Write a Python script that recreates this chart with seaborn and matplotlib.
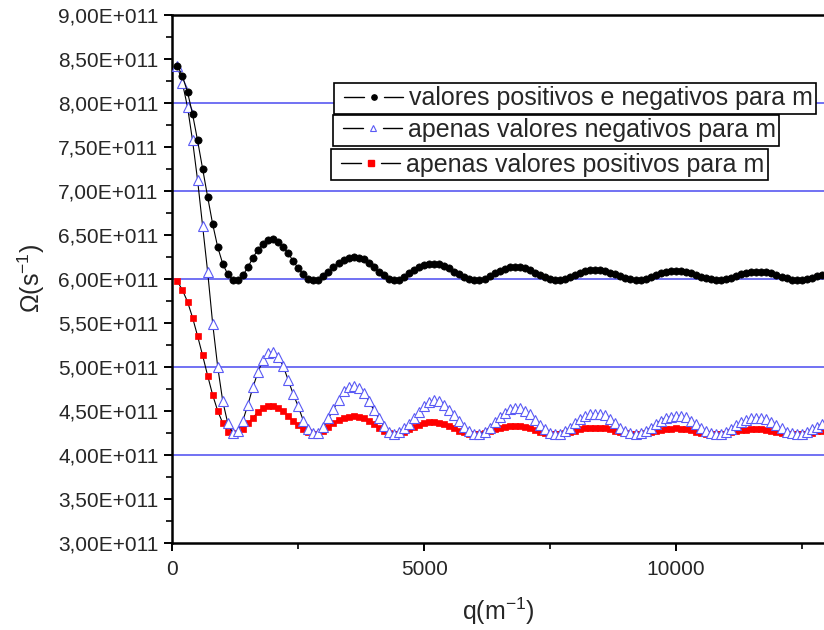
import numpy as np
import pandas as pd
import matplotlib
matplotlib.use("Agg")
import matplotlib.pyplot as plt
import seaborn as sns
from matplotlib.lines import Line2D
from matplotlib.legend_handler import HandlerBase
from matplotlib.ticker import MultipleLocator, FuncFormatter

# ---------------- data (Omega in units of 1e11 s^-1) ----------------
q_values = list(range(100, 13000, 100))

omega_pos_neg = [
    8.42, 8.30, 8.12, 7.87, 7.57, 7.25, 6.93, 6.62, 6.36, 6.17,
    6.05, 5.99, 5.99, 6.04, 6.13, 6.24, 6.33, 6.40, 6.44, 6.45,
    6.42, 6.36, 6.29, 6.20, 6.12, 6.05, 6.00, 5.985, 5.99, 6.03,
    6.08, 6.13, 6.18, 6.21, 6.24, 6.25, 6.24, 6.22, 6.18, 6.13,
    6.08, 6.04, 6.00, 5.985, 5.99, 6.02, 6.06, 6.10, 6.13, 6.155,
    6.17, 6.17, 6.165, 6.15, 6.12, 6.08, 6.05, 6.02, 6.00, 5.985,
    5.985, 6.00, 6.03, 6.06, 6.09, 6.115, 6.13, 6.135, 6.13, 6.12,
    6.10, 6.07, 6.04, 6.015, 5.995, 5.985, 5.99, 6.00, 6.02, 6.045,
    6.07, 6.09, 6.10, 6.105, 6.10, 6.09, 6.07, 6.05, 6.03, 6.01,
    5.995, 5.985, 5.99, 6.00, 6.02, 6.04, 6.06, 6.075, 6.085, 6.09,
    6.09, 6.08, 6.065, 6.045, 6.025, 6.005, 5.995, 5.985, 5.985, 5.995,
    6.01, 6.03, 6.05, 6.065, 6.075, 6.08, 6.08, 6.075, 6.06, 6.04,
    6.02, 6.005, 5.99, 5.985, 5.985, 5.995, 6.01, 6.03, 6.045,
]

omega_neg = [
    8.41, 8.22, 7.95, 7.57, 7.12, 6.60, 6.08, 5.49, 5.00, 4.61,
    4.36, 4.245, 4.27, 4.39, 4.57, 4.77, 4.94, 5.08, 5.16, 5.17,
    5.115, 5.01, 4.85, 4.69, 4.55, 4.39, 4.29, 4.245, 4.25, 4.32,
    4.415, 4.52, 4.62, 4.72, 4.775, 4.78, 4.755, 4.70, 4.615, 4.51,
    4.415, 4.33, 4.265, 4.24, 4.26, 4.30, 4.35, 4.415, 4.49, 4.555,
    4.60, 4.62, 4.615, 4.565, 4.51, 4.45, 4.38, 4.32, 4.27, 4.24,
    4.235, 4.26, 4.31, 4.37, 4.43, 4.48, 4.52, 4.535, 4.53, 4.50,
    4.46, 4.40, 4.34, 4.29, 4.25, 4.235, 4.24, 4.27, 4.31, 4.36,
    4.41, 4.44, 4.46, 4.47, 4.465, 4.45, 4.41, 4.36, 4.31, 4.27,
    4.245, 4.235, 4.245, 4.27, 4.31, 4.35, 4.39, 4.42, 4.435, 4.44,
    4.44, 4.425, 4.39, 4.35, 4.31, 4.27, 4.245, 4.235, 4.24, 4.26,
    4.295, 4.335, 4.37, 4.40, 4.415, 4.42, 4.42, 4.405, 4.375, 4.34,
    4.30, 4.265, 4.245, 4.235, 4.24, 4.26, 4.29, 4.32, 4.35,
]

omega_pos = [
    5.97, 5.87, 5.74, 5.56, 5.35, 5.13, 4.90, 4.68, 4.50, 4.36,
    4.265, 4.225, 4.25, 4.29, 4.36, 4.42, 4.49, 4.535, 4.56, 4.56,
    4.535, 4.50, 4.44, 4.39, 4.34, 4.29, 4.255, 4.237, 4.24, 4.275,
    4.32, 4.36, 4.40, 4.42, 4.435, 4.44, 4.435, 4.42, 4.39, 4.35,
    4.31, 4.275, 4.25, 4.235, 4.24, 4.26, 4.29, 4.32, 4.345, 4.36,
    4.37, 4.37, 4.365, 4.35, 4.325, 4.30, 4.275, 4.255, 4.24, 4.232,
    4.235, 4.25, 4.27, 4.29, 4.31, 4.32, 4.327, 4.33, 4.327, 4.32,
    4.305, 4.285, 4.265, 4.25, 4.238, 4.232, 4.235, 4.245, 4.26, 4.275,
    4.29, 4.30, 4.308, 4.31, 4.308, 4.30, 4.29, 4.275, 4.26, 4.245,
    4.237, 4.232, 4.235, 4.245, 4.26, 4.275, 4.285, 4.293, 4.298, 4.30,
    4.298, 4.29, 4.28, 4.265, 4.252, 4.242, 4.235, 4.232, 4.235, 4.243,
    4.255, 4.267, 4.278, 4.286, 4.29, 4.292, 4.29, 4.285, 4.275, 4.263,
    4.25, 4.24, 4.234, 4.232, 4.234, 4.242, 4.254, 4.266, 4.277,
]

series_labels = [
    "valores positivos e negativos para m",
    "apenas valores negativos para m",
    "apenas valores positivos para m",
]
grid_levels = [4e11, 5e11, 6e11, 7e11, 8e11]

SCALE = 1e11
df = pd.DataFrame({
    "q": q_values,
    "pn": np.array(omega_pos_neg) * SCALE,
    "neg": np.array(omega_neg) * SCALE,
    "pos": np.array(omega_pos) * SCALE,
})

# ---------------- style ----------------
sns.set_style("ticks")
plt.rcParams["font.family"] = ["Liberation Sans", "DejaVu Sans"]
plt.rcParams["mathtext.default"] = "regular"

W, H = 824, 630
fig = plt.figure(figsize=(W / 100, H / 100), dpi=100)
ax_left, ax_bottom, ax_top = 172.4, 543.0, 14.5
ax = fig.add_axes([ax_left / W, 1 - ax_bottom / H, 1 - ax_left / W, (ax_bottom - ax_top) / H])

BLUE = "#4a4af0"
TRI = "#5a5af5"
for g in grid_levels:
    ax.axhline(g, color=BLUE, lw=1.1, zorder=0)

sns.lineplot(data=df, x="q", y="pos", ax=ax, color="black", lw=0.8,
             marker="s", markersize=4.8, markerfacecolor="#ff0000",
             markeredgecolor="#ff0000", markeredgewidth=0.5, zorder=3)
sns.lineplot(data=df, x="q", y="neg", ax=ax, color="black", lw=0.8,
             marker="^", markersize=7.0, markerfacecolor="white",
             markeredgecolor=TRI, markeredgewidth=0.8, zorder=4)
sns.lineplot(data=df, x="q", y="pn", ax=ax, color="black", lw=0.8,
             marker="o", markersize=5.2, markerfacecolor="black",
             markeredgecolor="black", markeredgewidth=0.5, zorder=5)

ax.set_xlim(0, 12944)
ax.set_ylim(3e11, 9e11)

ax.xaxis.set_major_locator(MultipleLocator(5000))
ax.xaxis.set_minor_locator(MultipleLocator(2500))
ax.yaxis.set_major_locator(MultipleLocator(0.5e11))
ax.yaxis.set_minor_locator(MultipleLocator(0.25e11))
ax.yaxis.set_major_formatter(FuncFormatter(
    lambda v, p: f"{v / 1e11:.2f}".replace(".", ",") + "E+011"))

ax.tick_params(axis="both", which="major", direction="out", length=6,
               width=1.4, labelsize=15, color="black", pad=4)
ax.tick_params(axis="x", which="major", pad=6)
ax.tick_params(axis="both", which="minor", direction="out", length=4,
               width=1.2, color="black")

for side in ["left", "bottom", "top"]:
    ax.spines[side].set_linewidth(1.8)
    ax.spines[side].set_color("black")
ax.spines["right"].set_visible(False)

ax.set_xlabel("q(m$^{-1}$)", fontsize=18, labelpad=12)
ax.set_ylabel("\u03a9(s$^{-1}$)", fontsize=18, labelpad=8)


# ---------------- legends: three separate boxes ----------------
class GapLineHandler(HandlerBase):
    """Origin-style handle: short line, marker, short line."""

    def __init__(self, marker_kw):
        super().__init__()
        self.marker_kw = marker_kw

    def create_artists(self, legend, orig_handle, xdescent, ydescent,
                       width, height, fontsize, trans):
        x0 = -xdescent
        y = height / 2.0 - ydescent
        l1 = Line2D([x0 + 0.10 * width, x0 + 0.40 * width], [y, y],
                    color="black", lw=1.0)
        l2 = Line2D([x0 + 0.71 * width, x0 + 1.00 * width], [y, y],
                    color="black", lw=1.0)
        m = Line2D([x0 + 0.555 * width], [y], linestyle="None", **self.marker_kw)
        for a in (l1, l2, m):
            a.set_transform(trans)
        return [l1, l2, m]


marker_specs = [
    dict(marker="o", markersize=3.8, markerfacecolor="black", markeredgecolor="black"),
    dict(marker="^", markersize=4.6, markerfacecolor="white", markeredgecolor=TRI,
         markeredgewidth=0.8),
    dict(marker="s", markersize=3.8, markerfacecolor="#ff0000", markeredgecolor="#ff0000"),
]
box_pos = [(334, 83), (333, 114.5), (331, 149)]
for lab, mk, (bx, by) in zip(series_labels, marker_specs, box_pos):
    proxy = Line2D([], [], color="black")
    leg = fig.legend(handles=[proxy], labels=[lab],
                     handler_map={proxy: GapLineHandler(mk)},
                     loc="upper left", bbox_to_anchor=(bx / W, 1 - by / H),
                     bbox_transform=fig.transFigure, fontsize=18.0,
                     frameon=True, fancybox=False, framealpha=1,
                     edgecolor="black", borderpad=0.14, borderaxespad=0,
                     handlelength=2.6, handletextpad=0.25)
    leg.get_frame().set_linewidth(1.2)
    leg.set_zorder(10)

fig.savefig("out.png", dpi=100)
